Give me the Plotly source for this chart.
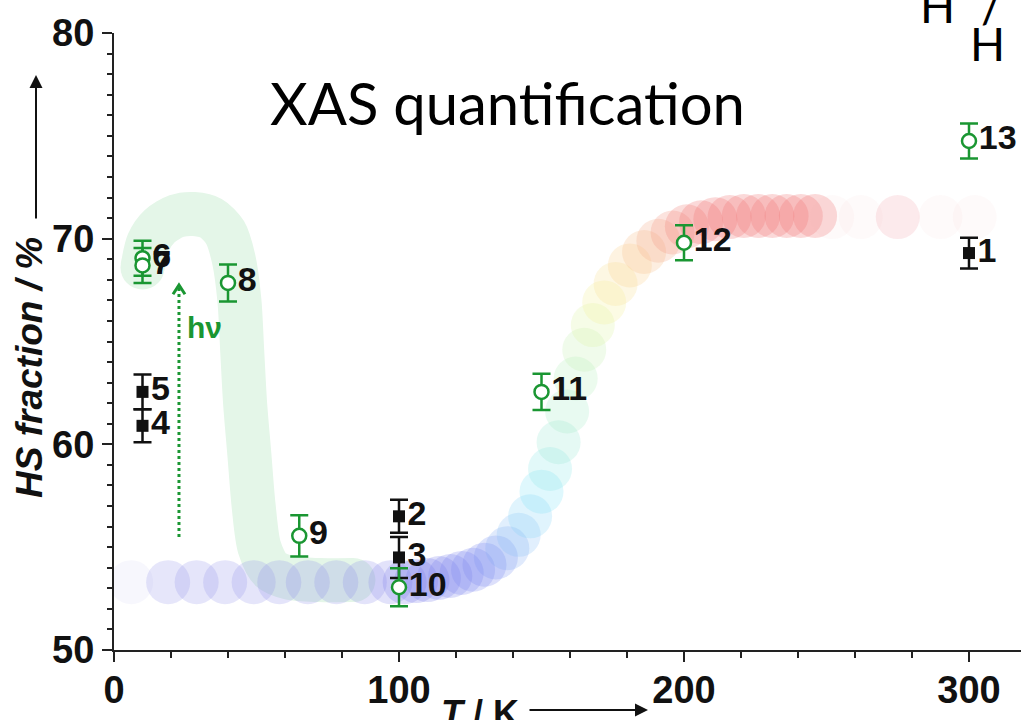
import plotly.graph_objects as go

# ---------------- data ----------------
# relaxation (LIESST) branch, T / K and HS fraction / %
T_liesst = [10, 12, 16, 22, 28, 34, 39, 42, 44, 45, 46, 47.5, 49, 51, 55, 62, 72, 84]
hs_liesst = [68.6, 69.8, 70.6, 71.1, 71.2, 71.0, 70.3, 69.0, 67.0, 64.5, 62.0, 59.5,
             57.0, 55.0, 53.9, 53.5, 53.4, 53.4]

# thermal transition curve
T_heat = [6, 19, 29, 39, 49, 58, 68, 78, 88, 97,
          102, 106, 110, 114, 118, 122, 126, 130, 134, 138,
          142, 146, 150, 153, 156, 159, 162, 165, 168, 172,
          176, 181, 186, 191, 196, 201, 206, 211, 216, 221,
          226, 231, 236, 241, 246, 252, 262, 275, 290, 302]
hs_heat = [53.3, 53.3, 53.3, 53.3, 53.3, 53.3, 53.3, 53.3, 53.3, 53.3,
           53.3, 53.35, 53.4, 53.5, 53.6, 53.75, 53.9, 54.15, 54.5, 54.95,
           55.6, 56.5, 57.7, 58.8, 60.1, 61.6, 63.2, 64.6, 65.8, 66.9,
           67.8, 68.7, 69.35, 69.9, 70.3, 70.6, 70.8, 70.95, 71.05, 71.1,
           71.1, 71.1, 71.1, 71.1, 71.1, 71.05, 71.05, 71.05, 71.05, 71.05]

# XAS points measured in the dark (filled squares)
T_dark = [300, 100, 100, 10, 10]
hs_dark = [69.3, 56.5, 54.5, 60.9, 62.55]
err_dark = [0.75, 0.8, 1.0, 0.8, 0.85]
lab_dark = ["1", "2", "3", "4", "5"]

# XAS points after irradiation (open circles)
T_irr = [10, 10, 40, 65, 100, 150, 200, 300]
hs_irr = [69.05, 68.7, 67.85, 55.55, 53.05, 62.55, 69.8, 74.75]
err_irr = [0.85, 0.85, 0.9, 1.0, 0.92, 0.88, 0.85, 0.85]
lab_irr = ["6", "7", "8", "9", "10", "11", "12", "13"]

# hv excitation arrow (T position, start and end HS)
T_hv = 22.8
hs_hv = [55.5, 67.75]

# ---------------- styling ----------------
GREEN = "#1a9632"
BAND = "#e4f6e8"
FONT = "Liberation Sans, Arial, sans-serif"

# colour stops along temperature for the transition circles: (T, r, g, b, alpha)
stops = [(0, 150, 150, 235, 0.10), (12, 150, 150, 235, 0.24), (95, 140, 140, 235, 0.24),
         (104, 120, 120, 235, 0.25), (132, 120, 135, 240, 0.25), (141, 130, 185, 245, 0.24),
         (150, 120, 225, 245, 0.24), (158, 155, 235, 200, 0.24), (164, 185, 240, 175, 0.24),
         (171, 245, 245, 155, 0.27), (181, 250, 210, 145, 0.27), (193, 245, 165, 140, 0.27),
         (204, 240, 115, 115, 0.27), (247, 240, 115, 115, 0.27), (250, 245, 185, 190, 0.07),
         (320, 245, 185, 190, 0.07)]


def circle_colour(t):
    for (t0, *c0), (t1, *c1) in zip(stops[:-1], stops[1:]):
        if t0 <= t <= t1:
            f = (t - t0) / (t1 - t0)
            c = [a + (b - a) * f for a, b in zip(c0, c1)]
            return "rgba(%d,%d,%d,%.3f)" % (c[0], c[1], c[2], c[3])
    return "rgba(245,185,190,0.07)"


heat_colours = [circle_colour(t) for t in T_heat]
heat_colours[T_heat.index(275)] = "rgba(240,150,160,0.2)"
heat_colours[0] = "rgba(175,180,235,0.10)"

fig = go.Figure()

# light-green relaxation band
fig.add_trace(go.Scatter(x=T_liesst, y=hs_liesst, mode="lines",
                         line=dict(color=BAND, width=44, shape="spline", smoothing=0.8),
                         hoverinfo="skip", showlegend=False))
fig.add_trace(go.Scatter(x=[T_liesst[0], T_liesst[-1]], y=[hs_liesst[0], hs_liesst[-1]],
                         mode="markers", marker=dict(size=44, color=BAND, line=dict(width=0)),
                         hoverinfo="skip", showlegend=False))

# rainbow transition circles
fig.add_trace(go.Scatter(x=T_heat, y=hs_heat, mode="markers",
                         marker=dict(size=44, color=heat_colours, line=dict(width=0)),
                         hoverinfo="skip", showlegend=False))

# filled squares
fig.add_trace(go.Scatter(
    x=T_dark, y=hs_dark, mode="markers+text", text=lab_dark, textposition="middle right",
    textfont=dict(family=FONT, size=34, color="#111", weight="bold"),
    marker=dict(symbol="square", size=12, color="#111", line=dict(width=0)),
    error_y=dict(type="data", array=err_dark, visible=True, color="#111", thickness=2.5, width=9),
    showlegend=False))

# open circles
fig.add_trace(go.Scatter(
    x=T_irr, y=hs_irr, mode="markers+text", text=lab_irr, textposition="middle right",
    textfont=dict(family=FONT, size=34, color="#111", weight="bold"),
    marker=dict(symbol="circle", size=14, color="white", line=dict(width=2.5, color=GREEN)),
    error_y=dict(type="data", array=err_irr, visible=True, color=GREEN, thickness=2.5, width=9),
    showlegend=False))

# dotted hv arrow
shapes = [
    dict(type="line", xref="x", yref="y", x0=T_hv, x1=T_hv, y0=hs_hv[0], y1=hs_hv[1] - 0.05,
         line=dict(color=GREEN, width=3, dash="dot")),
    dict(type="path", xref="x", yref="y",
         path="M %.2f %.2f L %.2f %.2f L %.2f %.2f" % (T_hv - 2.1, hs_hv[1] - 0.45, T_hv, hs_hv[1],
                                                       T_hv + 2.1, hs_hv[1] - 0.45),
         line=dict(color=GREEN, width=3)),
]

X0, X1, Y0, Y1 = 114, 1021, 33, 650


def px(x):
    return (x - X0) / (X1 - X0)


def py(y):
    return (Y1 - y) / (Y1 - Y0)


annotations = [
    dict(text="XAS quantification", x=px(507), y=py(102), xref="paper", yref="paper",
         showarrow=False, xanchor="center", yanchor="middle",
         font=dict(family="Lato, sans-serif", size=58, color="#000")),
    dict(text="H", x=px(937), y=py(6), xref="paper", yref="paper", showarrow=False,
         xanchor="center", yanchor="middle", font=dict(family="Lato, sans-serif", size=46, color="#000")),
    dict(text="/", x=px(991), y=py(6), xref="paper", yref="paper", showarrow=False,
         xanchor="center", yanchor="middle", font=dict(family="Lato, sans-serif", size=46, color="#000")),
    dict(text="H", x=px(987), y=py(44), xref="paper", yref="paper", showarrow=False,
         xanchor="center", yanchor="middle", font=dict(family="Lato, sans-serif", size=46, color="#000")),
    dict(text="<b>hν</b>", x=px(204), y=py(327), xref="paper", yref="paper", showarrow=False,
         xanchor="center", yanchor="middle", font=dict(family=FONT, size=30, color=GREEN)),
    # y-axis title and arrow
    dict(text="<b><i>HS fraction / %</i></b>", x=px(30), y=py(368), xref="paper", yref="paper",
         showarrow=False, textangle=-90, xanchor="center", yanchor="middle",
         font=dict(family=FONT, size=37, color="#111")),
    dict(text="", x=px(36), y=py(75), xref="paper", yref="paper", showarrow=True,
         ax=0, ay=145, arrowhead=2, arrowsize=1.3, arrowwidth=2, arrowcolor="#111"),
    # x-axis title and arrow
    dict(text="<b><i>T</i> / K</b>", x=px(480), y=py(691), xref="paper", yref="paper",
         showarrow=False, xanchor="center", yanchor="top",
         font=dict(family=FONT, size=36, color="#111")),
    dict(text="", x=px(648), y=py(710), xref="paper", yref="paper", showarrow=True,
         ax=-120, ay=0, arrowhead=2, arrowsize=1.3, arrowwidth=2, arrowcolor="#111"),
]

axis_common = dict(showline=True, linecolor="#222", linewidth=2, ticks="outside",
                   ticklen=10, tickwidth=2, tickcolor="#222", showgrid=False, zeroline=False,
                   tickfont=dict(family=FONT, size=38, color="#111", weight="bold"))

fig.update_layout(
    width=1021, height=720,
    margin=dict(l=X0, r=0, t=Y0, b=720 - Y1),
    paper_bgcolor="white", plot_bgcolor="white",
    xaxis=dict(range=[0, (X1 - X0) / 2.85], tickvals=[0, 100, 200, 300],
               minor=dict(dtick=20, tick0=0, ticks="outside", ticklen=6, tickwidth=2, tickcolor="#222"),
               ticklabelstandoff=-5, **axis_common),
    yaxis=dict(range=[50, 80], tickvals=[50, 60, 70, 80],
               minor=dict(dtick=1, tick0=50, ticks="outside", ticklen=5, tickwidth=2, tickcolor="#222"),
               ticklabelstandoff=0, **axis_common),
    shapes=shapes,
    annotations=annotations,
)

fig.write_html("out.html")
